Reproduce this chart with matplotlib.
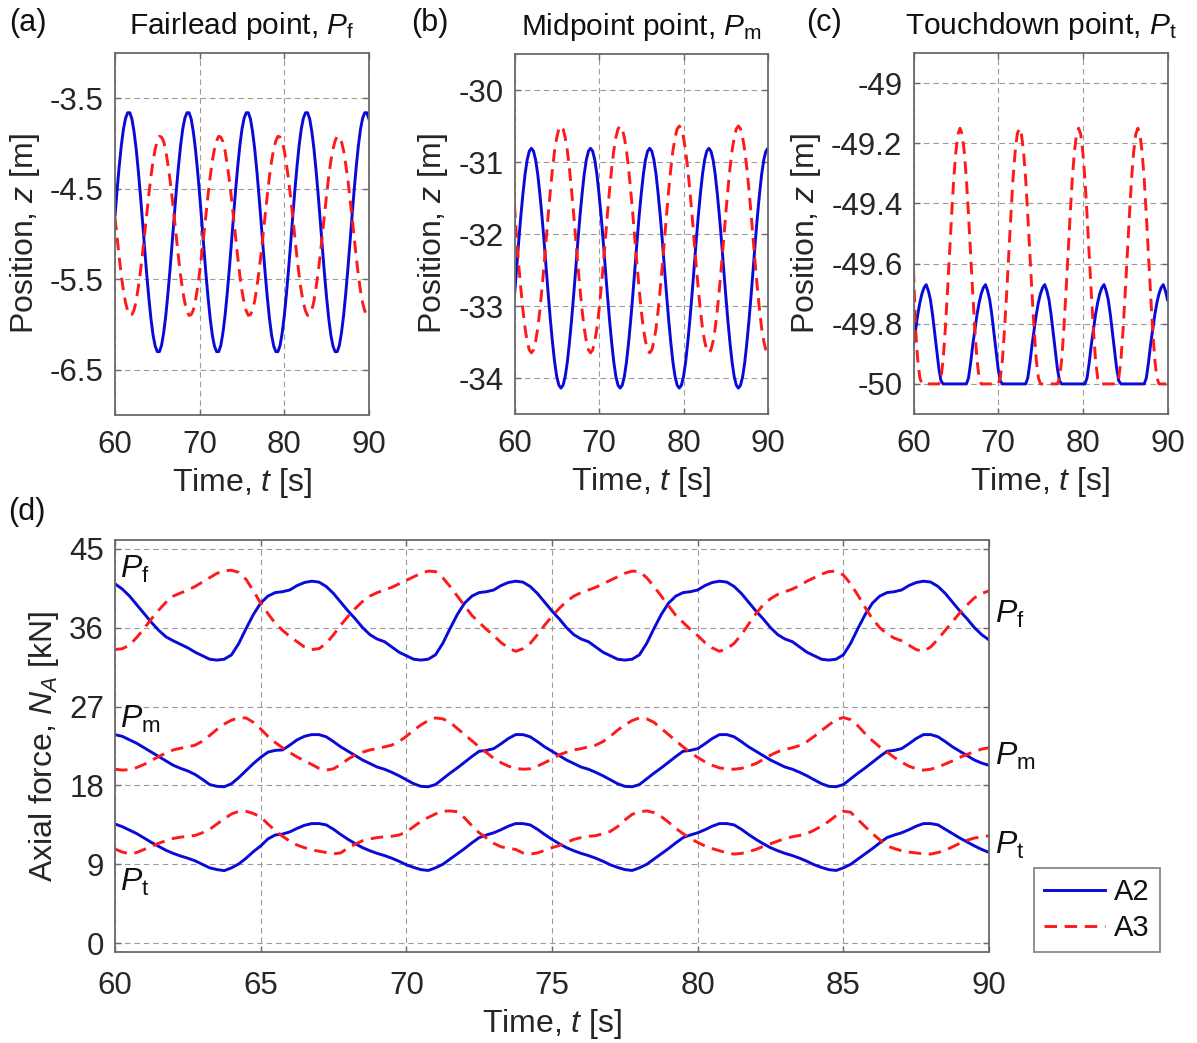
import numpy as np
import matplotlib
matplotlib.use('Agg')
import matplotlib.pyplot as plt

plt.rcParams['font.family'] = ['Liberation Sans', 'DejaVu Sans']
plt.rcParams['mathtext.fontset'] = 'custom'
plt.rcParams['mathtext.rm'] = 'Liberation Sans'
plt.rcParams['mathtext.it'] = 'Liberation Sans:italic'
plt.rcParams['mathtext.bf'] = 'Liberation Sans:bold'
plt.rcParams['axes.unicode_minus'] = False

# ---------------- data (time step 0.25 s, 60..90 s) ----------------
time = np.linspace(60, 90, 121)

# (a) fairlead point, vertical position z [m]
a_A2 = [-4.80,-4.51,-4.25,-4.02,-3.84,-3.72,-3.66,-3.66,-3.73,-3.87,-4.06,-4.30,-4.57,-4.86,-5.16,-5.45,-5.71,-5.94,-6.12,-6.24,-6.30,-6.30,-6.23,-6.09,-5.90,-5.66,-5.39,-5.10,
        -4.80,-4.51,-4.25,-4.02,-3.84,-3.72,-3.66,-3.66,-3.73,-3.87,-4.06,-4.30,-4.57,-4.86,-5.16,-5.45,-5.71,-5.94,-6.12,-6.24,-6.30,-6.30,-6.23,-6.09,-5.90,-5.66,-5.39,-5.10,
        -4.80,-4.51,-4.25,-4.02,-3.84,-3.72,-3.66,-3.66,-3.73,-3.87,-4.06,-4.30,-4.57,-4.86,-5.16,-5.45,-5.71,-5.94,-6.12,-6.24,-6.30,-6.30,-6.23,-6.09,-5.90,-5.66,-5.39,-5.10,
        -4.80,-4.51,-4.25,-4.02,-3.84,-3.72,-3.66,-3.66,-3.73,-3.87,-4.06,-4.30,-4.57,-4.86,-5.16,-5.45,-5.71,-5.94,-6.12,-6.24,-6.30,-6.30,-6.23,-6.09,-5.90,-5.66,-5.39,-5.10,
        -4.80,-4.51,-4.25,-4.02,-3.84,-3.72,-3.66,-3.66,-3.73]
a_A3 = [-4.82,-5.04,-5.26,-5.46,-5.63,-5.76,-5.85,-5.90,-5.89,-5.84,-5.74,-5.59,-5.42,-5.22,-5.00,-4.78,-4.56,-4.36,-4.19,-4.06,-3.97,-3.92,-3.93,-3.98,-4.08,-4.23,-4.40,-4.60,
        -4.82,-5.04,-5.26,-5.46,-5.63,-5.76,-5.85,-5.90,-5.89,-5.84,-5.74,-5.59,-5.42,-5.22,-5.00,-4.78,-4.56,-4.36,-4.19,-4.06,-3.97,-3.92,-3.93,-3.98,-4.08,-4.23,-4.40,-4.60,
        -4.82,-5.04,-5.26,-5.46,-5.63,-5.76,-5.85,-5.90,-5.89,-5.84,-5.74,-5.59,-5.42,-5.22,-5.00,-4.78,-4.56,-4.36,-4.19,-4.06,-3.97,-3.92,-3.93,-3.98,-4.08,-4.23,-4.40,-4.60,
        -4.82,-5.04,-5.26,-5.46,-5.63,-5.76,-5.85,-5.90,-5.89,-5.84,-5.74,-5.59,-5.42,-5.22,-5.00,-4.78,-4.56,-4.36,-4.19,-4.06,-3.97,-3.92,-3.93,-3.98,-4.08,-4.23,-4.40,-4.60,
        -4.82,-5.04,-5.26,-5.46,-5.63,-5.76,-5.85,-5.90,-5.89]

# (b) midpoint
b_A2 = [-32.85,-32.48,-32.10,-31.75,-31.44,-31.17,-30.97,-30.85,-30.81,-30.85,-30.97,-31.17,-31.44,-31.75,-32.10,-32.48,-32.85,-33.20,-33.51,-33.78,-33.98,-34.10,-34.14,-34.10,-33.98,-33.78,-33.51,-33.20,
        -32.85,-32.48,-32.10,-31.75,-31.44,-31.17,-30.97,-30.85,-30.81,-30.85,-30.97,-31.17,-31.44,-31.75,-32.10,-32.48,-32.85,-33.20,-33.51,-33.78,-33.98,-34.10,-34.14,-34.10,-33.98,-33.78,-33.51,-33.20,
        -32.85,-32.48,-32.10,-31.75,-31.44,-31.17,-30.97,-30.85,-30.81,-30.85,-30.97,-31.17,-31.44,-31.75,-32.10,-32.48,-32.85,-33.20,-33.51,-33.78,-33.98,-34.10,-34.14,-34.10,-33.98,-33.78,-33.51,-33.20,
        -32.85,-32.48,-32.10,-31.75,-31.44,-31.17,-30.97,-30.85,-30.81,-30.85,-30.97,-31.17,-31.44,-31.75,-32.10,-32.48,-32.85,-33.20,-33.51,-33.78,-33.98,-34.10,-34.14,-34.10,-33.98,-33.78,-33.51,-33.20,
        -32.85,-32.48,-32.10,-31.75,-31.44,-31.17,-30.97,-30.85,-30.81]
b_A3 = [-31.60,-32.08,-32.43,-32.76,-33.06,-33.31,-33.49,-33.61,-33.65,-33.61,-33.49,-33.31,-33.06,-32.76,-32.43,-32.08,-31.72,-31.39,-31.09,-30.84,-30.66,-30.54,-30.50,-30.54,-30.66,-30.84,-31.09,-31.39,
        -31.72,-32.08,-32.43,-32.76,-33.06,-33.31,-33.49,-33.61,-33.65,-33.61,-33.49,-33.31,-33.06,-32.76,-32.43,-32.08,-31.72,-31.39,-31.09,-30.84,-30.66,-30.54,-30.50,-30.54,-30.66,-30.84,-31.09,-31.39,
        -31.72,-32.08,-32.43,-32.76,-33.06,-33.31,-33.49,-33.61,-33.65,-33.61,-33.49,-33.31,-33.06,-32.76,-32.43,-32.08,-31.72,-31.39,-31.09,-30.84,-30.66,-30.54,-30.50,-30.54,-30.66,-30.84,-31.09,-31.39,
        -31.72,-32.08,-32.43,-32.76,-33.06,-33.31,-33.49,-33.61,-33.65,-33.61,-33.49,-33.31,-33.06,-32.76,-32.43,-32.08,-31.72,-31.39,-31.09,-30.84,-30.66,-30.54,-30.50,-30.54,-30.66,-30.84,-31.09,-31.39,
        -31.72,-32.08,-32.43,-32.76,-33.06,-33.31,-33.49,-33.61,-33.65]

# (c) touchdown point
c_A2 = [-49.87,-49.82,-49.77,-49.73,-49.70,-49.68,-49.67,-49.69,-49.72,-49.77,-49.83,-49.89,-49.95,-49.99,-50,-50,-50,-50,-50,-50,-50,-50,-50,-50,-50,-50,-49.98,-49.93,
        -49.87,-49.82,-49.77,-49.73,-49.70,-49.68,-49.67,-49.69,-49.72,-49.77,-49.83,-49.89,-49.95,-49.99,-50,-50,-50,-50,-50,-50,-50,-50,-50,-50,-50,-50,-49.98,-49.93,
        -49.87,-49.82,-49.77,-49.73,-49.70,-49.68,-49.67,-49.69,-49.72,-49.77,-49.83,-49.89,-49.95,-49.99,-50,-50,-50,-50,-50,-50,-50,-50,-50,-50,-50,-50,-49.98,-49.93,
        -49.87,-49.82,-49.77,-49.73,-49.70,-49.68,-49.67,-49.69,-49.72,-49.77,-49.83,-49.89,-49.95,-49.99,-50,-50,-50,-50,-50,-50,-50,-50,-50,-50,-50,-50,-49.98,-49.93,
        -49.87,-49.82,-49.77,-49.73,-49.70,-49.68,-49.67,-49.69,-49.72]
c_A3 = [-49.62,-49.82,-49.92,-49.98,-50,-50,-50,-50,-50,-50,-50,-50,-50,-49.98,-49.92,-49.82,-49.70,-49.57,-49.44,-49.32,-49.23,-49.17,-49.15,-49.17,-49.23,-49.32,-49.44,-49.57,
        -49.70,-49.82,-49.92,-49.98,-50,-50,-50,-50,-50,-50,-50,-50,-50,-49.98,-49.92,-49.82,-49.70,-49.57,-49.44,-49.32,-49.23,-49.17,-49.15,-49.17,-49.23,-49.32,-49.44,-49.57,
        -49.70,-49.82,-49.92,-49.98,-50,-50,-50,-50,-50,-50,-50,-50,-50,-49.98,-49.92,-49.82,-49.70,-49.57,-49.44,-49.32,-49.23,-49.17,-49.15,-49.17,-49.23,-49.32,-49.44,-49.57,
        -49.70,-49.82,-49.92,-49.98,-50,-50,-50,-50,-50,-50,-50,-50,-50,-49.98,-49.92,-49.82,-49.70,-49.57,-49.44,-49.32,-49.23,-49.17,-49.15,-49.17,-49.23,-49.32,-49.44,-49.57,
        -49.70,-49.82,-49.92,-49.98,-50,-50,-50,-50,-50]

# (d) axial force N_A [kN]
Pf_A2 = [41.0,40.4,39.6,38.6,37.6,36.6,35.7,34.95,34.5,34.1,33.7,33.2,32.8,32.4,32.3,32.4,32.9,34.2,35.9,37.5,38.8,39.6,40.0,40.1,40.3,40.8,41.15,41.3,
         41.2,40.7,39.9,38.9,37.9,37.0,36.0,35.2,34.7,34.4,33.8,33.2,32.8,32.4,32.3,32.4,32.9,34.2,35.9,37.5,38.8,39.6,40.0,40.1,40.3,40.8,41.15,41.3,
         41.2,40.7,39.9,38.9,37.9,37.0,36.0,35.2,34.7,34.4,33.8,33.2,32.8,32.4,32.3,32.4,32.9,34.2,35.9,37.5,38.8,39.6,40.0,40.1,40.3,40.8,41.15,41.3,
         41.2,40.7,39.9,38.9,37.9,37.0,36.0,35.2,34.7,34.4,33.8,33.2,32.8,32.4,32.3,32.4,32.9,34.2,35.9,37.5,38.8,39.6,40.0,40.1,40.3,40.8,41.15,41.3,
         41.2,40.7,39.9,38.9,37.9,37.0,36.0,35.2,34.6]
Pf_A3 = [33.5,33.6,34.0,34.9,35.9,37.0,38.0,38.9,39.6,39.95,40.3,40.7,41.2,41.7,42.2,42.5,42.55,42.3,41.5,40.2,38.8,37.6,36.5,35.7,35.0,34.4,33.8,33.5,
         33.6,34.2,35.2,36.3,37.3,38.2,39.0,39.6,40.0,40.3,40.6,41.0,41.4,41.8,42.2,42.45,42.4,41.7,40.7,39.6,38.5,37.4,36.6,35.8,35.1,34.3,33.7,33.3,
         33.6,34.2,35.2,36.3,37.3,38.2,39.0,39.6,40.0,40.3,40.6,41.0,41.4,41.8,42.2,42.45,42.4,41.7,40.7,39.6,38.5,37.4,36.6,35.8,35.1,34.3,33.7,33.3,
         33.6,34.2,35.2,36.4,37.6,38.6,39.3,39.8,40.1,40.4,40.8,41.3,41.7,42.1,42.4,42.45,42.0,41.0,39.7,38.3,37.0,36.0,35.3,34.8,34.5,34.0,33.5,33.3,
         33.8,34.7,35.7,36.7,37.7,38.6,39.4,39.9,40.2]
Pm_A2 = [23.8,23.6,23.2,22.8,22.3,21.8,21.3,20.8,20.3,19.95,19.65,19.25,18.7,18.1,17.9,17.85,18.2,18.9,19.7,20.5,21.2,21.8,22.0,22.05,22.6,23.2,23.6,23.8,
         23.8,23.55,23.0,22.4,21.9,21.4,20.9,20.5,20.1,19.85,19.5,19.1,18.65,18.2,17.9,17.85,18.1,18.75,19.4,20.0,20.65,21.3,21.9,22.0,22.2,22.75,23.35,23.8,
         23.8,23.55,23.0,22.4,21.9,21.4,20.9,20.5,20.1,19.85,19.5,19.1,18.65,18.2,17.9,17.85,18.1,18.75,19.4,20.0,20.65,21.3,21.9,22.0,22.2,22.75,23.35,23.8,
         23.8,23.55,23.0,22.4,21.9,21.4,20.9,20.5,20.1,19.85,19.5,19.1,18.65,18.2,17.9,17.85,18.1,18.75,19.4,20.0,20.65,21.3,21.9,22.0,22.2,22.75,23.35,23.8,
         23.8,23.55,23.0,22.4,21.9,21.4,20.9,20.55,20.3]
Pm_A3 = [19.85,19.75,19.8,20.05,20.4,20.85,21.3,21.7,22.05,22.25,22.4,22.6,23.05,23.7,24.4,25.0,25.45,25.7,25.7,25.2,24.45,23.6,22.9,22.3,21.75,21.25,20.8,20.4,
         19.95,19.75,19.9,20.4,21.0,21.5,21.8,22.05,22.2,22.4,22.6,23.0,23.6,24.3,24.9,25.4,25.7,25.6,25.2,24.5,23.8,23.1,22.4,21.75,21.1,20.6,20.2,19.95,
         19.85,19.9,20.2,20.6,21.0,21.5,21.8,22.05,22.2,22.4,22.6,23.0,23.6,24.3,24.9,25.4,25.7,25.6,25.2,24.5,23.8,23.1,22.4,21.75,21.2,20.7,20.3,20.0,
         19.9,19.85,19.95,20.2,20.5,20.95,21.45,21.85,22.1,22.3,22.55,23.0,23.6,24.25,24.9,25.5,25.75,25.5,24.8,23.9,23.1,22.4,21.8,21.2,20.65,20.2,19.9,19.75,
         19.85,20.1,20.45,20.8,21.2,21.55,21.85,22.15,22.3]
Pt_A2 = [13.6,13.3,12.9,12.5,12.0,11.5,11.05,10.6,10.25,9.95,9.7,9.4,9.0,8.6,8.4,8.28,8.6,9.05,9.7,10.45,11.1,11.9,12.35,12.45,12.7,13.1,13.45,13.65,
         13.65,13.5,13.0,12.4,11.85,11.35,10.9,10.55,10.25,10.0,9.7,9.35,8.95,8.65,8.4,8.3,8.6,9.0,9.6,10.2,10.8,11.45,12.05,12.35,12.6,12.95,13.35,13.65,
         13.65,13.5,13.0,12.4,11.85,11.35,10.9,10.55,10.25,10.0,9.7,9.35,8.95,8.65,8.4,8.3,8.6,9.0,9.6,10.2,10.8,11.45,12.05,12.35,12.6,12.95,13.35,13.65,
         13.65,13.5,13.0,12.4,11.85,11.35,10.9,10.55,10.25,10.0,9.7,9.35,8.95,8.65,8.4,8.3,8.6,9.0,9.6,10.2,10.8,11.45,12.05,12.35,12.6,12.95,13.35,13.65,
         13.65,13.5,13.0,12.5,12.0,11.55,11.1,10.7,10.36]
Pt_A3 = [10.75,10.4,10.2,10.35,10.7,11.05,11.4,11.7,11.95,12.1,12.2,12.3,12.6,13.0,13.6,14.2,14.75,15.05,15.05,14.8,14.4,13.6,12.85,12.2,11.65,11.2,10.9,10.65,
         10.5,10.35,10.2,10.3,10.9,11.3,11.7,11.9,12.05,12.15,12.2,12.35,12.7,13.3,13.9,14.35,14.75,15.05,15.1,15.0,14.3,13.4,12.6,12.0,11.4,11.0,10.85,10.7,
         10.3,10.17,10.3,10.6,10.9,11.15,11.5,11.85,12.05,12.2,12.27,12.5,12.75,13.3,14.05,14.7,15.0,15.1,14.9,14.45,13.8,13.1,12.5,11.95,11.5,11.1,10.8,10.55,
         10.3,10.17,10.25,10.45,10.7,11.05,11.35,11.65,11.95,12.15,12.3,12.5,12.9,13.35,13.9,14.55,15.05,14.95,14.1,13.3,12.5,11.8,11.1,10.8,10.55,10.4,10.3,10.2,
         10.17,10.35,10.6,11.0,11.4,11.75,12.0,12.15,12.26]

series_names = ['A2', 'A3']
top_titles = [r'Fairlead point, $P_{\mathrm{f}}$', r'Midpoint point, $P_{\mathrm{m}}$', r'Touchdown point, $P_{\mathrm{t}}$']
top_yticks = [[-6.5, -5.5, -4.5, -3.5], [-34, -33, -32, -31, -30], [-50, -49.8, -49.6, -49.4, -49.2, -49]]
top_yticklabels = [['-6.5', '-5.5', '-4.5', '-3.5'], ['-34', '-33', '-32', '-31', '-30'],
                   ['-50', '-49.8', '-49.6', '-49.4', '-49.2', '-49']]
top_ylims = [(-7.0, -3.0), (-34.5, -29.5), (-50.1, -48.9)]
top_xticks = [60, 70, 80, 90]
d_xticks = [60, 65, 70, 75, 80, 85, 90]
d_yticks = [0, 9, 18, 27, 36, 45]

# ---------------- styling ----------------
BLUE = '#0a0ad8'
RED = '#ff1a1a'
SPINE = '#6a6a6a'
TXT = '#262626'
TICK_FS = 22.5
LABEL_FS = 23
W, H = 1197, 1043
fig = plt.figure(figsize=(W / 100, H / 100), dpi=100)


def add_ax(l, t, r, b):
    return fig.add_axes([l / W, 1 - b / H, (r - l) / W, (b - t) / H])


def style(ax, xpad):
    ax.grid(True, color='#9c9c9c', lw=0.8, ls=(0, (5, 3.5)))
    ax.set_axisbelow(True)
    ax.tick_params(direction='in', top=True, right=True, length=4.5, width=1.0,
                   color=SPINE, labelsize=TICK_FS, labelcolor=TXT)
    ax.tick_params(axis='y', pad=8)
    ax.tick_params(axis='x', pad=xpad)
    for s in ax.spines.values():
        s.set_color(SPINE)
        s.set_linewidth(1.3)


def plot_pair(ax, y2, y3):
    l2, = ax.plot(time, y2, color=BLUE, lw=2.1, label=series_names[0])
    l3, = ax.plot(time, y3, color=RED, lw=2.1, ls=(0, (4.3, 2.6)), label=series_names[1])
    return l2, l3


top_boxes = [(115, 53, 369, 415), (514.5, 54, 768, 414), (913.5, 53, 1167.5, 414)]
top_data = [(a_A2, a_A3), (b_A2, b_A3), (c_A2, c_A3)]
letters = ['(a)', '(b)', '(c)']
letter_x = [9, 411, 806]

for i in range(3):
    ax = add_ax(*top_boxes[i])
    plot_pair(ax, *top_data[i])
    ax.set_xlim(60, 90)
    ax.set_ylim(*top_ylims[i])
    ax.set_xticks(top_xticks)
    ax.set_yticks(top_yticks[i])
    ax.set_yticklabels(top_yticklabels[i])
    style(ax, 11)
    ax.set_xlabel(r'Time, $t$ [s]', fontsize=LABEL_FS, color=TXT, labelpad=4)
    ax.set_ylabel(r'Position, $z$ [m]', fontsize=LABEL_FS, color=TXT, labelpad=6)
    ax.set_title(top_titles[i], fontsize=21.5, color='#111111', pad=14)
    fig.text(letter_x[i] / W, 1 - 23 / H, letters[i], fontsize=22, color='#111111',
             ha='left', va='center')

# ---------------- panel (d) ----------------
axd = add_ax(115, 540, 989, 952)
h2, h3 = plot_pair(axd, Pf_A2, Pf_A3)
plot_pair(axd, Pm_A2, Pm_A3)
plot_pair(axd, Pt_A2, Pt_A3)
axd.set_xlim(60, 90)
axd.set_ylim(-1, 46)
axd.set_xticks(d_xticks)
axd.set_yticks(d_yticks)
style(axd, 14)
axd.set_xlabel(r'Time, $t$ [s]', fontsize=LABEL_FS, color=TXT, labelpad=4)
axd.set_ylabel(r'Axial force, $N_A$ [kN]', fontsize=LABEL_FS, color=TXT, labelpad=6)
fig.text(8 / W, 1 - 512 / H, '(d)', fontsize=22, color='#111111', ha='left', va='center')

lab_kw = dict(fontsize=23, color='#111111', va='baseline', clip_on=False)
axd.text(60.17, 41.7, r'$P_{\mathrm{f}}$', ha='left', **lab_kw)
axd.text(60.17, 24.6, r'$P_{\mathrm{m}}$', ha='left', **lab_kw)
axd.text(60.17, 5.95, r'$P_{\mathrm{t}}$', ha='left', **lab_kw)
axd.text(90.2, 36.6, r'$P_{\mathrm{f}}$', ha='left', **lab_kw)
axd.text(90.2, 20.4, r'$P_{\mathrm{m}}$', ha='left', **lab_kw)
axd.text(90.2, 10.2, r'$P_{\mathrm{t}}$', ha='left', **lab_kw)

leg = axd.legend(handles=[h2, h3], loc='lower left', bbox_to_anchor=(1034 / W, 1 - 952 / H),
                 bbox_transform=fig.transFigure, borderaxespad=0, frameon=True, fancybox=False,
                 edgecolor=SPINE, fontsize=21, handlelength=2.1, borderpad=0.35,
                 labelspacing=0.25, handletextpad=0.3)
leg.get_frame().set_linewidth(1.3)
for t in leg.get_texts():
    t.set_color('#111111')

fig.savefig('out.png', dpi=100, facecolor='white')
